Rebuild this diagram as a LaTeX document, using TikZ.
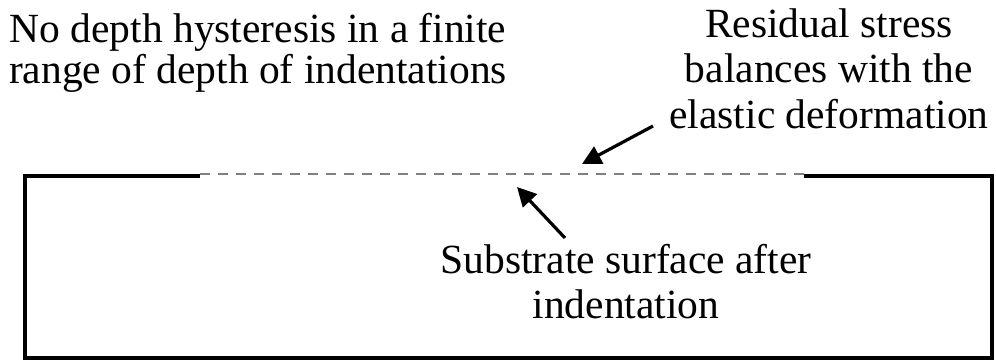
\documentclass[tikz,border=0pt]{standalone}
\usepackage{fontspec}
\setmainfont{Liberation Serif}
\usetikzlibrary{arrows.meta}
\tikzset{
  lbl/.style={anchor=base, inner sep=0pt, font=\fontsize{41.5}{45}\selectfont},
  surf/.style={line width=3.4pt, black},
  newsurf/.style={line width=2pt, black!50, dash pattern=on 10pt off 8pt},
  pointer/.style={line width=3.2pt, black, -{Triangle[length=19pt,width=19pt]}}
}
\begin{document}
\begin{tikzpicture}[x=1pt,y=-1pt]
\useasboundingbox (0,0) rectangle (996,360);
% substrate
\coordinate (tl) at (25,176);
\coordinate (dl) at (200,176);
\coordinate (dr) at (804,176);
\coordinate (tr) at (992,176);
\coordinate (br) at (992,358);
\coordinate (bl) at (25,358);
\draw[surf] (dl) -- (tl) -- (bl) -- (br) -- (tr) -- (dr);
\draw[newsurf] (200,174) -- (804,174);
% texts
\node[lbl] (l1) at (258,42) {No depth hysteresis in a finite};
\node[lbl] (l2) at (258,83.5) {range of depth of indentations};
\node[lbl] (r1) at (829,37) {Residual stress};
\node[lbl] (r2) at (829,82.5) {balances with the};
\node[lbl] (r3) at (829,128) {elastic deformation};
\node[lbl] (b1) at (626,273) {Substrate surface after};
\node[lbl] (b2) at (626,318) {indentation};
% arrows
\coordinate (a1s) at (653,126);
\coordinate (a1e) at (582,164);
\coordinate (a2s) at (565,238);
\coordinate (a2e) at (517,187);
\draw[pointer] (a1s) -- (a1e);
\draw[pointer] (a2s) -- (a2e);
\end{tikzpicture}
\end{document}
